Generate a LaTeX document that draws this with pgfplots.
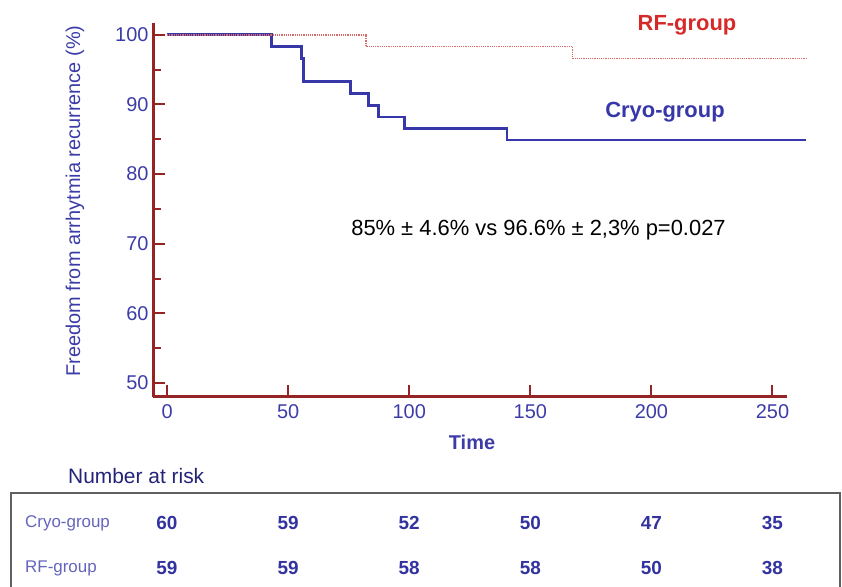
\documentclass[border=0pt]{standalone}
\usepackage{pgfplots}
\pgfplotsset{compat=1.18}
\usepackage{fontspec}
\setmainfont{Liberation Sans}
\definecolor{axred}{RGB}{150,36,36}
\definecolor{tickblue}{RGB}{60,60,168}
\definecolor{curveblue}{RGB}{55,55,170}
\definecolor{rfred}{RGB}{214,42,42}
\definecolor{rfline}{RGB}{218,105,105}
\definecolor{risklab}{RGB}{100,100,188}
\definecolor{risknum}{RGB}{50,50,160}
\definecolor{navy}{RGB}{35,35,120}
\newcommand{\fs}[1]{\fontsize{#1}{#1}\selectfont}
\begin{document}
\begin{tikzpicture}
\useasboundingbox (0,0) rectangle (842bp,587bp);
\begin{axis}[
  scale only axis, width=634bp, height=374bp,
  at={(153bp,190bp)}, anchor=south west,
  xmin=-5.8, xmax=256, ymin=48, ymax=101.7,
  axis x line=bottom, axis y line=left,
  axis line style={-, draw=axred, line width=3bp},
  x axis line style={-, draw=axred, line width=3bp},
  y axis line style={-, draw=axred, line width=3bp},
  xtick={0,50,...,250}, ytick={50,60,...,100}, minor ytick={55,65,...,95},
  tick align=inside,
  major tick length=12bp, minor tick length=8bp,
  every tick/.style={axred, line width=2bp},
  tick label style={font=\fs{20}, text=tickblue},
  xticklabel style={yshift=-4bp},
  yticklabel style={xshift=-1bp},
  /pgf/number format/assume math mode=true,
  clip=false,
]
\addplot[const plot, color=curveblue, line width=2.8bp] coordinates {
  (0,100) (43,98.3) (55.6,96.6) (56.2,93.3) (75.9,91.6) (83.2,89.9) (87.3,88.2) (98,86.5) (140.4,84.9) (264,84.9)
};
\addplot[const plot, color=rfline, line width=1.6bp, dash pattern=on 1.2bp off 1bp] coordinates {
  (0,100) (82.2,98.3) (167.5,96.6) (264,96.6)
};
\end{axis}
% axis labels
\node[rotate=90, text=tickblue, font=\fs{20}] at (75bp,386bp) {Freedom from arrhytmia recurrence (\%)};
\node[text=tickblue, font=\bfseries\fs{20}] at (472bp,145bp) {Time};
% curve labels and annotation
\node[text=rfred, font=\bfseries\fs{22}] at (687bp,562bp) {RF-group};
\node[text=curveblue, font=\bfseries\fs{22}] at (665bp,475bp) {Cryo-group};
\node[text=black, font=\fs{22}] at (538.5bp,357bp) {85\% ± 4.6\% vs 96.6\% ± 2,3\% p=0.027};
% number at risk
\node[text=navy, font=\fs{21}, anchor=west, inner sep=0pt] at (68bp,111bp) {Number at risk};
\draw[draw=gray!75!black, line width=2bp] (11bp,-5bp) -- (11bp,94bp) -- (840bp,94bp) -- (840bp,-5bp);
\node[text=risklab, font=\fs{17}, anchor=west, inner sep=0pt] at (25bp,64bp) {Cryo-group};
\node[text=risklab, font=\fs{17}, anchor=west, inner sep=0pt] at (25bp,19bp) {RF-group};
\foreach \x/\a/\b in {0/60/59, 1/59/59, 2/52/58, 3/50/58, 4/47/50, 5/35/38} {
  \node[text=risknum, font=\bfseries\fs{19}] at ({(167+121.1*\x)*1bp},64bp) {\a};
  \node[text=risknum, font=\bfseries\fs{19}] at ({(167+121.1*\x)*1bp},19bp) {\b};
}
\end{tikzpicture}
\end{document}
